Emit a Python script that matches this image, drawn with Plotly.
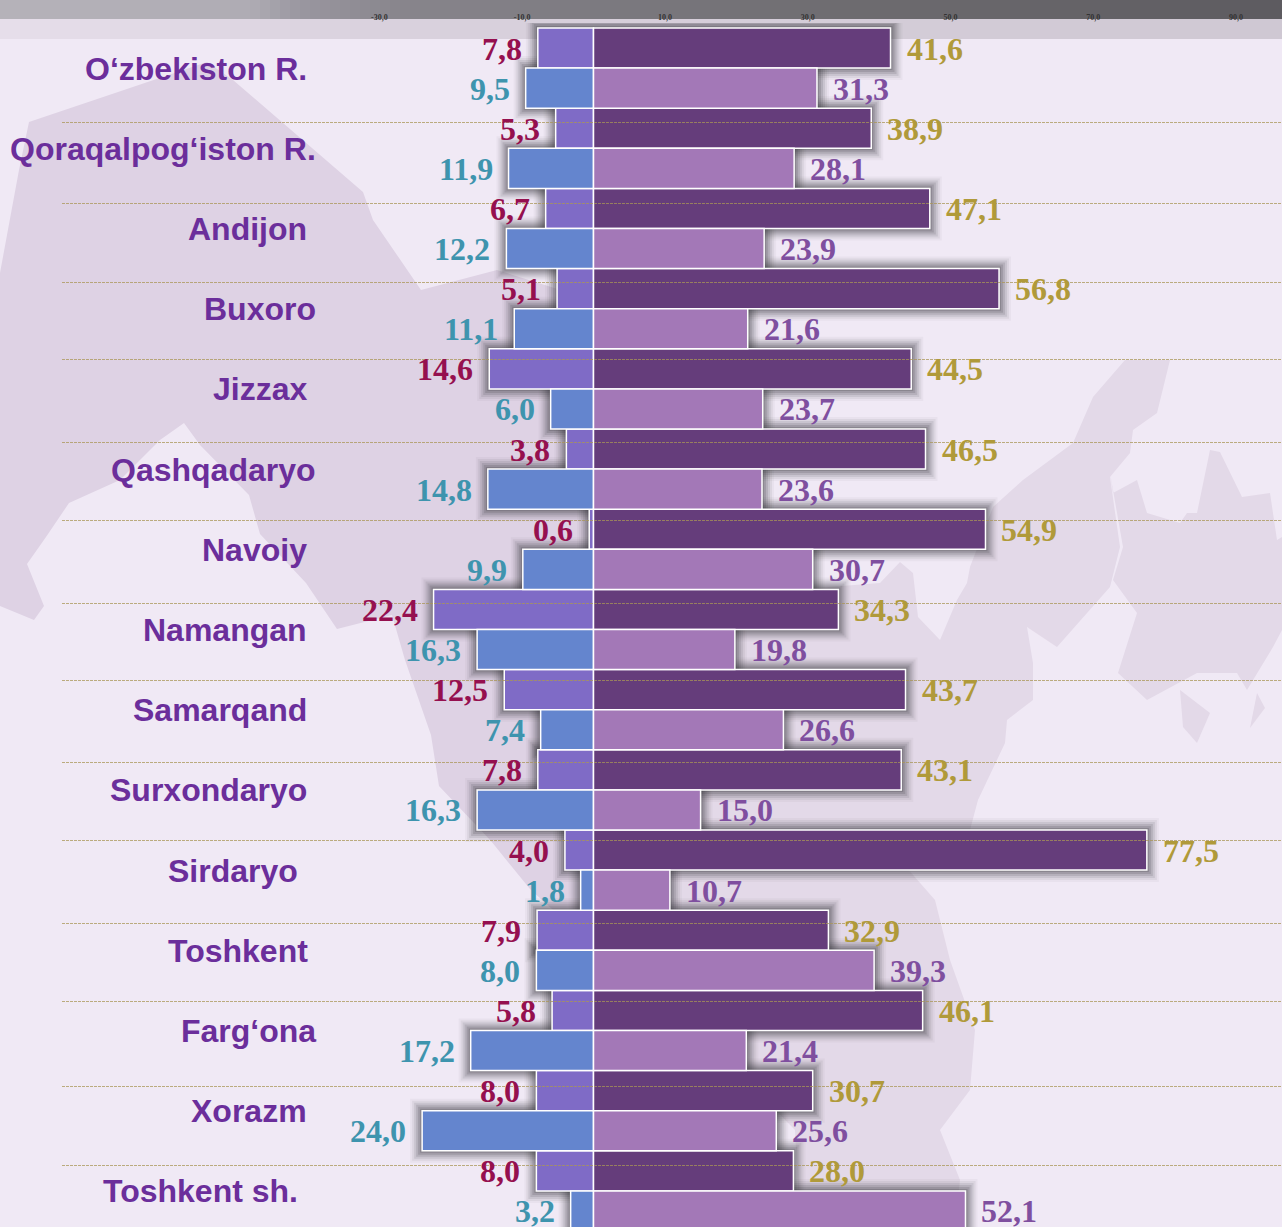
import plotly.graph_objects as go

regions = ["O‘zbekiston R.", "Qoraqalpog‘iston R.", "Andijon", "Buxoro", "Jizzax", "Qashqadaryo", "Navoiy",
           "Namangan", "Samarqand", "Surxondaryo", "Sirdaryo", "Toshkent", "Farg‘ona", "Xorazm", "Toshkent sh."]
left_top = [7.8, 5.3, 6.7, 5.1, 14.6, 3.8, 0.6, 22.4, 12.5, 7.8, 4.0, 7.9, 5.8, 8.0, 8.0]
left_bottom = [9.5, 11.9, 12.2, 11.1, 6.0, 14.8, 9.9, 16.3, 7.4, 16.3, 1.8, 8.0, 17.2, 24.0, 3.2]
right_top = [41.6, 38.9, 47.1, 56.8, 44.5, 46.5, 54.9, 34.3, 43.7, 43.1, 77.5, 32.9, 46.1, 30.7, 28.0]
right_bottom = [31.3, 28.1, 23.9, 21.6, 23.7, 23.6, 30.7, 19.8, 26.6, 15.0, 10.7, 39.3, 21.4, 25.6, 52.1]
tick_values = [-30, -10, 10, 30, 50, 70, 90]
tick_labels = ["-30,0", "-10,0", "10,0", "30,0", "50,0", "70,0", "90,0"]

W, H, TOP = 1282, 1227, 23
PX_X, PX_Y = 7.14, 80.2
px = lambda x: x / W
py = lambda y: 1 - (y - TOP) / (H - TOP)


def poly(points):
    return "M" + " L".join(f"{px(x):.5f},{py(y):.5f}" for x, y in points) + " Z"


WEST_MAP = [(29, 122), (207, 62), (233, 80), (363, 192), (373, 220), (421, 290), (497, 270), (593, 300),
            (593, 925), (575, 930),
            (530, 889), (491, 841), (439, 786), (431, 735), (405, 660), (392, 615), (337, 629), (306, 583), (260, 534),
            (249, 495), (200, 445), (184, 423), (160, 440), (120, 480), (69, 503), (46, 537), (27, 564), (44, 606),
            (34, 620), (0, 606), (0, 273), (19, 170)]
EAST_MAP = [(1125, 360), (1170, 360), (1157, 413), (1133, 430), (1130, 453), (1110, 477), (1120, 547), (1110, 587),
            (1057, 647), (1027, 627), (1033, 663), (1033, 700), (1007, 720), (1005, 743), (978, 800), (970, 830),
            (900, 860), (935, 900), (950, 960), (975, 1030), (970, 1090), (940, 1130), (960, 1180), (955, 1227),
            (800, 1227), (795, 1130), (593, 925), (593, 300), (790, 590), (880, 583), (900, 562), (913, 573),
            (918, 617), (940, 640), (957, 600), (967, 583), (970, 567),
            (993, 507), (1023, 480), (1073, 443), (1093, 397)]
FERGANA_MAP = [(1110, 473), (1113, 493), (1137, 480), (1147, 513), (1180, 523), (1187, 513), (1197, 513), (1210, 450),
               (1220, 452), (1242, 497), (1270, 493), (1277, 540), (1282, 537), (1282, 630), (1273, 647), (1247, 690),
               (1237, 673), (1197, 673), (1147, 700), (1118, 673), (1137, 613), (1113, 580), (1123, 547)]
ISLES = [[(1180, 690), (1210, 713), (1197, 743), (1183, 727)], [(1257, 693), (1265, 708), (1250, 728)]]

shapes = []
for pts, col in [(WEST_MAP, "#DED2E4"), (EAST_MAP, "#E3D9E8"), (FERGANA_MAP, "#E3D9E8")] + [(p, "#E3D9E8") for p in ISLES]:
    shapes.append(dict(type="path", path=poly(pts), xref="paper", yref="paper", layer="below",
                       fillcolor=col, line_width=0))

band_stops = [(0, (181, 178, 185)), (250, (175, 172, 180)), (300, (154, 151, 160)), (400, (136, 133, 140)),
              (600, (124, 122, 128)), (840, (110, 108, 112)), (1282, (93, 91, 96))]
band2_stops = [(0, (230, 222, 234)), (400, (217, 209, 221)), (1282, (207, 200, 211))]


def grad(stops, x):
    for (a, ca), (b, cb) in zip(stops, stops[1:]):
        if a <= x <= b:
            t = (x - a) / (b - a)
            return "rgb(%d,%d,%d)" % tuple(round(u + (v - u) * t) for u, v in zip(ca, cb))
    return "rgb(%d,%d,%d)" % stops[-1][1]


for x in range(0, W, 10):
    for stops, y0, y1 in [(band_stops, 0, 19), (band2_stops, 19, 39)]:
        shapes.append(dict(type="rect", xref="paper", yref="paper", x0=px(x), x1=px(x + 11), y0=py(y1), y1=py(y0),
                           layer="below", fillcolor=grad(stops, x + 5), line_width=0))

# soft shadows round the bars
for k, alpha in [(12, 0.04), (10, 0.07), (8, 0.10), (6, 0.13), (4, 0.16), (2, 0.20)]:
    for sign, tops, bottoms in [(-1, left_top, left_bottom), (1, right_top, right_bottom)]:
        for i, (a, b) in enumerate(zip(tops, bottoms)):
            for v, y0, y1 in [(a, i - 0.5, i), (b, i, i + 0.5)]:
                shapes.append(dict(type="rect", xref="x", yref="y", layer="below",
                                   x0=0, x1=sign * (v + k / PX_X),
                                   y0=y0 - k / PX_Y, y1=y1 + k / PX_Y,
                                   fillcolor=f"rgba(50,50,55,{alpha})", line_width=0))

for y in [122, 203, 282, 359, 442, 520, 603, 680, 762, 840, 923, 1001, 1086, 1165]:
    shapes.append(dict(type="line", xref="paper", yref="paper", x0=px(62), x1=1, y0=py(y + 0.5), y1=py(y + 0.5), layer="above",
                       line=dict(color="rgba(170,150,85,0.75)", width=1, dash="3px,1px")))

ys = list(range(len(regions)))
fig = go.Figure()
for vals, sign, offset, color in [(left_top, -1, -0.5, "#7F6BC6"), (left_bottom, -1, 0, "#6485CE"),
                                  (right_top, 1, -0.5, "#653D7B"), (right_bottom, 1, 0, "#A378B7")]:
    fig.add_trace(go.Bar(y=ys, x=[sign * v for v in vals], orientation="h", width=0.5, offset=offset,
                         marker=dict(color=color, line=dict(color="white", width=1.5)), showlegend=False))

annotations = []
label_right = [309, 318, 309, 318, 309, 318, 309, 309, 309, 309, 300, 310, 318, 309, 300]
for i, name in enumerate(regions):
    annotations.append(dict(x=px(label_right[i]), xref="paper", y=i, yref="y", text=f"<b>{name}</b>", showarrow=False,
                            xanchor="right", yanchor="middle", yshift=-0.5,
                            font=dict(family="Liberation Sans", size=32, color="#6B2E9B")))
for vals, sign, dy, color in [(left_top, -1, -0.25, "#95104F"), (left_bottom, -1, 0.25, "#3E94AE"),
                              (right_top, 1, -0.25, "#B09A3A"), (right_bottom, 1, 0.25, "#7F4F9F")]:
    for i, v in enumerate(vals):
        annotations.append(dict(x=sign * v, y=i + dy, xref="x", yref="y", showarrow=False,
                                text="<b>" + f"{v:.1f}".replace(".", ",") + "</b>",
                                xanchor="right" if sign < 0 else "left", yanchor="middle", xshift=sign * 14, yshift=-0.5,
                                font=dict(family="Liberation Serif", size=32, color=color)))

fig.update_layout(
    width=W, height=H, margin=dict(l=0, r=0, t=TOP, b=0), paper_bgcolor="#F0E9F5", plot_bgcolor="rgba(0,0,0,0)",
    barmode="overlay", shapes=shapes, annotations=annotations, showlegend=False,
    xaxis=dict(range=[-593.5 / PX_X, (W - 593.5) / PX_X], side="top", showgrid=False, zeroline=False, showline=False,
               tickmode="array", tickvals=tick_values, ticktext=tick_labels, ticks="",
               tickfont=dict(family="Liberation Serif", size=8, color="#333333", weight=700)),
    yaxis=dict(range=[(H - 28) / PX_Y - 0.5, (TOP - 28) / PX_Y - 0.5], visible=False),
)
fig.write_html("out.html", config={"displayModeBar": False},
               post_script="document.body.style.margin='0';document.body.style.overflow='hidden';")
